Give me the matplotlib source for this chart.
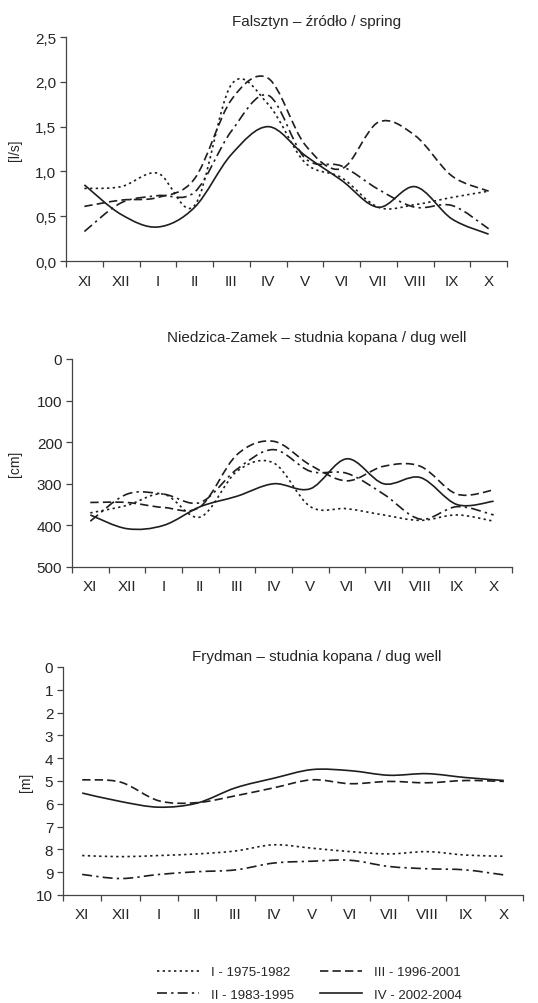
import matplotlib
matplotlib.use("Agg")
import matplotlib.pyplot as plt
import numpy as np
from matplotlib.path import Path
from matplotlib.patches import PathPatch
from matplotlib.lines import Line2D

plt.rcParams['font.family'] = ['Liberation Sans', 'DejaVu Sans']

# Monate (hydrologisches Jahr)
monate = ["XI", "XII", "I", "II", "III", "IV", "V", "VI", "VII", "VIII", "IX", "X"]

perioden = ["I - 1975-1982", "II - 1983-1995", "III - 1996-2001", "IV - 2002-2004"]

# Falsztyn - Quelle [l/s]
falsztyn_I = [0.81, 0.83, 0.98, 0.62, 1.97, 1.75, 1.10, 0.93, 0.60, 0.63, 0.71, 0.78]
falsztyn_II = [0.33, 0.65, 0.73, 0.77, 1.45, 1.85, 1.15, 1.06, 0.80, 0.60, 0.62, 0.36]
falsztyn_III = [0.61, 0.68, 0.71, 0.92, 1.80, 2.04, 1.30, 1.03, 1.55, 1.40, 0.95, 0.78]
falsztyn_IV = [0.85, 0.52, 0.38, 0.60, 1.19, 1.50, 1.18, 0.90, 0.60, 0.83, 0.47, 0.30]

# Niedzica-Zamek - Brunnen [cm]
niedzica_I = [370, 352, 325, 380, 270, 250, 355, 360, 375, 388, 375, 390]
niedzica_II = [390, 325, 325, 345, 265, 218, 270, 275, 325, 385, 355, 375]
niedzica_III = [345, 345, 357, 355, 230, 198, 255, 293, 258, 258, 325, 315]
niedzica_IV = [375, 408, 400, 355, 330, 300, 312, 240, 300, 285, 350, 342]

# Frydman - Brunnen [m]
frydman_I = [8.27, 8.32, 8.27, 8.20, 8.07, 7.80, 7.95, 8.10, 8.20, 8.10, 8.25, 8.30]
frydman_II = [9.10, 9.28, 9.10, 8.98, 8.90, 8.60, 8.52, 8.48, 8.75, 8.85, 8.90, 9.12]
frydman_III = [4.95, 5.05, 5.87, 5.95, 5.65, 5.30, 4.95, 5.12, 5.02, 5.08, 4.98, 5.02]
frydman_IV = [5.53, 5.90, 6.15, 5.97, 5.30, 4.88, 4.50, 4.55, 4.75, 4.68, 4.85, 4.98]

farbe = "#1e1e1e"
textfarbe = "#262626"
stile = [(0, (1.4, 2.0)), (0, (6, 2.5, 1.4, 2.5)), (0, (5, 2.5)), "-"]


def glatt(ax, werte, ls):
    """Geglättete Linie (Bezier wie in Excel) durch die Monatswerte."""
    x = np.arange(len(werte), dtype=float)
    y = np.array(werte, dtype=float)
    pts = np.column_stack([x, y])
    n = len(pts)
    verts = [pts[0]]
    codes = [Path.MOVETO]
    for i in range(n - 1):
        p0 = pts[i - 1] if i > 0 else pts[i]
        p1 = pts[i]
        p2 = pts[i + 1]
        p3 = pts[i + 2] if i + 2 < n else pts[i + 1]
        c1 = p1 + (p2 - p0) / 6.0
        c2 = p2 - (p3 - p1) / 6.0
        verts += [c1, c2, p2]
        codes += [Path.CURVE4] * 3
    patch = PathPatch(Path(verts, codes), fill=False, edgecolor=farbe,
                      linewidth=1.2, linestyle=ls, capstyle="butt")
    ax.add_patch(patch)


def achsen(ax, ylim, yticks, ylabel, fmt, lab_x):
    ax.set_xlim(-0.5, len(monate) - 0.5)
    ax.set_ylim(*ylim)
    ax.set_xticks(range(len(monate)))
    ax.set_xticklabels(monate)
    ax.set_xticks(np.arange(-0.5, len(monate), 1.0), minor=True)
    ax.tick_params(axis="x", which="major", length=0, pad=9, labelsize=11, colors=textfarbe)
    ax.tick_params(axis="x", which="minor", length=4, width=0.9, color="#444444")
    ax.set_yticks(yticks)
    ax.set_yticklabels([fmt(v) for v in yticks])
    ax.tick_params(axis="y", length=4, width=0.9, color="#444444", labelsize=11,
                   labelcolor=textfarbe, pad=3)
    for s in ["top", "right"]:
        ax.spines[s].set_visible(False)
    for s in ["left", "bottom"]:
        ax.spines[s].set_color("#444444")
        ax.spines[s].set_linewidth(0.9)
    ax.set_ylabel(ylabel, fontsize=10, color=textfarbe)
    ax.yaxis.set_label_coords(lab_x, 0.5)


fig = plt.figure(figsize=(5.38, 10.04), dpi=100)

# Diagramm 1: Falsztyn
ax1 = fig.add_axes([0.1227, 0.739, 0.8197, 0.2231])
for werte, ls in zip([falsztyn_I, falsztyn_II, falsztyn_III, falsztyn_IV], stile):
    glatt(ax1, werte, ls)
achsen(ax1, (0, 2.5), [0, 0.5, 1.0, 1.5, 2.0, 2.5], "[l/s]",
       lambda v: f"{v:.1f}".replace(".", ","), -0.099)
fig.text(0.589, 1 - 22 / 1004, "Falsztyn \u2013 \u017ar\u00f3d\u0142o / spring",
         ha="center", va="center", fontsize=11, color=textfarbe)

# Diagramm 2: Niedzica-Zamek
ax2 = fig.add_axes([0.1338, 0.4343, 0.8178, 0.2072])
for werte, ls in zip([niedzica_I, niedzica_II, niedzica_III, niedzica_IV], stile):
    glatt(ax2, werte, ls)
achsen(ax2, (500, 0), [0, 100, 200, 300, 400, 500], "[cm]",
       lambda v: f"{v:d}", -0.114)
fig.text(0.589, 1 - 338 / 1004, "Niedzica-Zamek \u2013 studnia kopana / dug well",
         ha="center", va="center", fontsize=11, color=textfarbe)

# Diagramm 3: Frydman
ax3 = fig.add_axes([0.1171, 0.1076, 0.855, 0.2271])
for werte, ls in zip([frydman_I, frydman_II, frydman_III, frydman_IV], stile):
    glatt(ax3, werte, ls)
achsen(ax3, (10, 0), list(range(0, 11)), "[m]", lambda v: f"{v:d}", -0.066)
fig.text(0.589, 1 - 657 / 1004, "Frydman \u2013 studnia kopana / dug well",
         ha="center", va="center", fontsize=11, color=textfarbe)

# Legende
handles = [Line2D([], [], color=farbe, linewidth=1.2, linestyle=ls) for ls in stile]
fig.legend(handles, perioden, loc="center", bbox_to_anchor=(0.575, 0.0195), ncol=2,
           frameon=False, fontsize=9.5, handlelength=3.2, columnspacing=2.0,
           handletextpad=0.9, labelspacing=0.8, labelcolor=textfarbe)

fig.savefig("out.png", dpi=100)
